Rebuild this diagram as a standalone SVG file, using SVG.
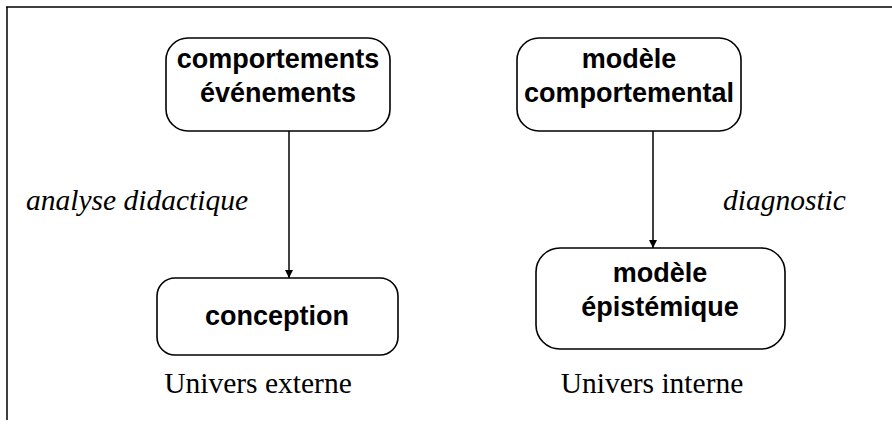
<svg xmlns="http://www.w3.org/2000/svg" width="892" height="434" viewBox="0 0 892 434">
<defs>
<style>
.box{fill:#fff;stroke:#000;stroke-width:1.6}
.nt{font-family:"Liberation Sans",Arial,sans-serif;font-weight:bold;font-size:27px;text-anchor:middle;fill:#000}
.lab{font-family:"Liberation Serif","Times New Roman",serif;font-size:29.5px;fill:#000}
.it{font-style:italic}
.edge{stroke:#000;stroke-width:1.5;fill:none}
</style>
<marker id="ah" viewBox="0 0 10 10" refX="10" refY="5" markerWidth="9" markerHeight="8" markerUnits="userSpaceOnUse" orient="auto">
<path d="M0,0 L10,5 L0,10 z" fill="#000"/>
</marker>
</defs>
<rect width="892" height="434" fill="#fff"/>
<g id="frame">
<path d="M6,7 H892 M7,7 V420" stroke="#000" stroke-width="1.5" fill="none"/>
</g>
<g id="edges">
<line class="edge" x1="289" y1="131" x2="289" y2="278" marker-end="url(#ah)"/>
<line class="edge" x1="653" y1="131" x2="653" y2="248" marker-end="url(#ah)"/>
</g>
<g id="n1">
<rect class="box" x="166" y="38" width="224" height="93" rx="22"/>
<text class="nt" x="278" y="68">comportements</text>
<text class="nt" x="278" y="102">événements</text>
</g>
<g id="n2">
<rect class="box" x="517" y="38" width="224" height="93" rx="22"/>
<text class="nt" x="629" y="68">modèle</text>
<text class="nt" x="629" y="102">comportemental</text>
</g>
<g id="n3">
<rect class="box" x="157" y="278" width="241" height="77" rx="18"/>
<text class="nt" x="277" y="325">conception</text>
</g>
<g id="n4">
<rect class="box" x="536" y="248" width="249" height="101" rx="24"/>
<text class="nt" x="660" y="282">modèle</text>
<text class="nt" x="660" y="316">épistémique</text>
</g>
<g id="labels">
<text class="lab it" x="26" y="210">analyse didactique</text>
<text class="lab it" x="723" y="210">diagnostic</text>
<text class="lab" x="258" y="393" text-anchor="middle">Univers externe</text>
<text class="lab" x="652" y="393" text-anchor="middle">Univers interne</text>
</g>
</svg>
